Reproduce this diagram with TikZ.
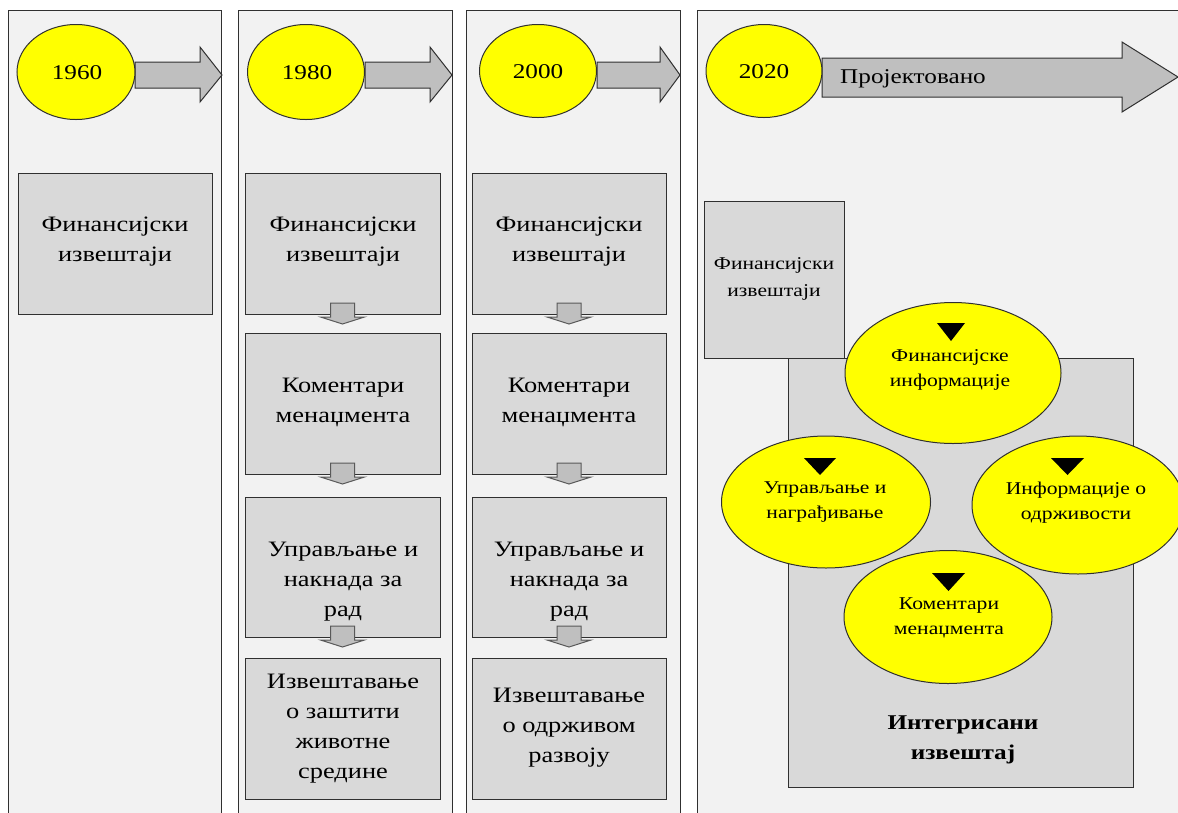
\documentclass[tikz,border=0pt]{standalone}
\usepackage{fontspec}
\setmainfont{Liberation Serif}[FakeStretch=1.2]
\usetikzlibrary{shapes.geometric}
\definecolor{panelbg}{HTML}{F2F2F2}
\definecolor{boxbg}{HTML}{D9D9D9}
\definecolor{yel}{HTML}{FFFF00}
\definecolor{arrbg}{HTML}{BFBFBF}
\definecolor{edge}{HTML}{303030}
\begin{document}
\begin{tikzpicture}[x=1pt,y=-1pt,
  panel/.style={draw=edge,fill=panelbg,line width=1pt,inner sep=0pt,outer sep=0pt,anchor=north west},
  stagebox/.style={draw=edge,fill=boxbg,line width=1pt,inner sep=0pt,outer sep=0pt,anchor=north west},
  yearell/.style={ellipse,draw=edge,fill=yel,line width=1pt,inner sep=0pt},
  yeartext/.style={inner sep=0pt,font=\fontsize{21}{25}\selectfont},
  infoell/.style={ellipse,draw=edge,fill=yel,line width=1pt,inner sep=0pt},
  bigarrow/.style={draw=edge,fill=arrbg,line width=1pt,line join=miter},
  smallarrow/.style={draw=edge!80,fill=arrbg,line width=1pt},
  tri/.style={fill=black},
  boxtext/.style={align=center,inner sep=0pt,font=\fontsize{22}{30}\selectfont},
  elltext/.style={align=center,inner sep=0pt,font=\fontsize{18}{25}\selectfont}]
\useasboundingbox (0,0) rectangle (1178,812);
\clip (0,0) rectangle (1178,812);
\fill[white] (0,0) rectangle (1178,812);
% panels
\node[panel,minimum width=213pt,minimum height=830pt] (p1) at (8,10) {};
\node[panel,minimum width=214pt,minimum height=830pt] (p2) at (238,10) {};
\node[panel,minimum width=214pt,minimum height=830pt] (p3) at (466,10) {};
\node[panel,minimum width=510pt,minimum height=830pt] (p4) at (697,10) {};
% big arrows
\draw[bigarrow] (135,62) -- (200,62) -- (200,47) -- (222,75) -- (200,102) -- (200,88) -- (135,88) -- cycle;
\draw[bigarrow] (365,62) -- (430,62) -- (430,47) -- (452,75) -- (430,102) -- (430,88) -- (365,88) -- cycle;
\draw[bigarrow] (597,62) -- (660,62) -- (660,47) -- (680,75) -- (660,102) -- (660,88) -- (597,88) -- cycle;
\draw[bigarrow] (822,58) -- (1122,58) -- (1122,42) -- (1178,77) -- (1122,112) -- (1122,97) -- (822,97) -- cycle;
% year ellipses
\node[yearell,minimum width=118pt,minimum height=95pt] (y1) at (76,72) {};
\node[yearell,minimum width=117pt,minimum height=95pt] (y2) at (306,72) {};
\node[yearell,minimum width=117pt,minimum height=93pt] (y3) at (538,71) {};
\node[yearell,minimum width=116pt,minimum height=93pt] (y4) at (764,71) {};
\node[yeartext] (t1) at (77,73) {1960};
\node[yeartext] (t2) at (307,73) {1980};
\node[yeartext] (t3) at (538,72) {2000};
\node[yeartext] (t4) at (764,72) {2020};
\node[anchor=west,inner sep=0pt,font=\fontsize{21}{25}\selectfont] (proj) at (840,79) {Пројектовано};
% column 1
\node[stagebox,minimum width=194pt,minimum height=141pt] (a1) at (18,173) {};
\node[boxtext] (ta1) at (115,242) {Финансијски\\извештаји};
% column 2 boxes
\node[stagebox,minimum width=195pt,minimum height=141pt] (b1) at (245,173) {};
\node[stagebox,minimum width=195pt,minimum height=141pt] (b2) at (245,333) {};
\node[stagebox,minimum width=195pt,minimum height=140pt] (b3) at (245,497) {};
\node[stagebox,minimum width=195pt,minimum height=141pt] (b4) at (245,658) {};
% column 3 boxes
\node[stagebox,minimum width=194pt,minimum height=141pt] (c1) at (472,173) {};
\node[stagebox,minimum width=194pt,minimum height=141pt] (c2) at (472,333) {};
\node[stagebox,minimum width=194pt,minimum height=140pt] (c3) at (472,497) {};
\node[stagebox,minimum width=194pt,minimum height=141pt] (c4) at (472,658) {};
% small down arrows
\foreach \n in {b1,b2,b3,c1,c2,c3}{
  \draw[smallarrow,shift={(\n.south)}] (-12,-11) -- (12,-11) -- (12,3) -- (22,3) -- (0,10) -- (-22,3) -- (-12,3) -- cycle;
}
% column 2 texts
\node[boxtext] (tb1) at (343,242) {Финансијски\\извештаји};
\node[boxtext] (tb2) at (343,402) {Коментари\\менаџмента};
\node[boxtext] (tb3) at (343,582) {Управљање и\\накнада за\\рад};
\node[boxtext] (tb4) at (343,729) {Извештавање\\о заштити\\животне\\средине};
% column 3 texts
\node[boxtext] (tc1) at (569,242) {Финансијски\\извештаји};
\node[boxtext] (tc2) at (569,402) {Коментари\\менаџмента};
\node[boxtext] (tc3) at (569,582) {Управљање и\\накнада за\\рад};
\node[boxtext] (tc4) at (569,728) {Извештавање\\о одрживом\\развоју};
% panel 4
\node[stagebox,minimum width=345pt,minimum height=429pt] (ir) at (788,358) {};
\node[stagebox,minimum width=140pt,minimum height=157pt] (fs) at (704,201) {};
\node[align=center,inner sep=0pt,font=\fontsize{18}{27}\selectfont] (tfs) at (774,279) {Финансијски\\извештаји};
\node[infoell,minimum width=216pt,minimum height=141pt] (e1) at (953,373) {};
\node[infoell,minimum width=209pt,minimum height=132pt] (e2) at (826,502) {};
\node[infoell,minimum width=212pt,minimum height=138pt] (e3) at (1078,505) {};
\node[infoell,minimum width=208pt,minimum height=133pt] (e4) at (948,617) {};
\fill[tri] (937,323) -- (965,323) -- (951,341) -- cycle;
\fill[tri] (804,458) -- (836,458) -- (820,475) -- cycle;
\fill[tri] (1051,458) -- (1084,458) -- (1067.5,475) -- cycle;
\fill[tri] (932,573) -- (965,573) -- (948.5,591) -- cycle;
\node[elltext] (te1) at (950,370) {Финансијске\\информације};
\node[elltext] (te2) at (825,502) {Управљање и\\награђивање};
\node[elltext] (te3) at (1076,503) {Информације о\\одрживости};
\node[elltext] (te4) at (949,618) {Коментари\\менаџмента};
\node[align=center,inner sep=0pt,font=\fontsize{21}{30}\selectfont\bfseries] (tir) at (963,740) {Интегрисани\\извештај};
\end{tikzpicture}
\end{document}
